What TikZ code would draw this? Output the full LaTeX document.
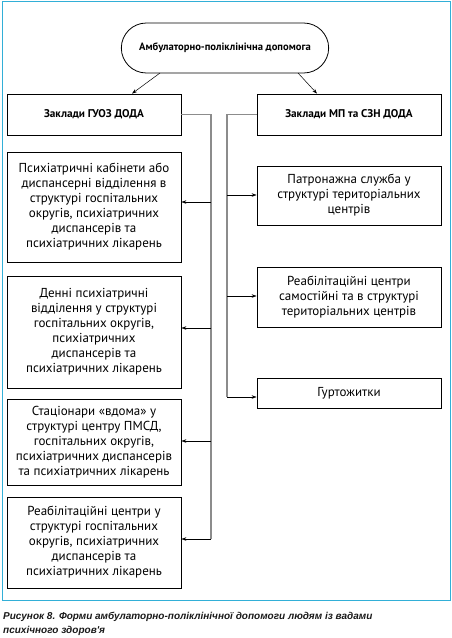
\documentclass[tikz,border=0pt]{standalone}
\usepackage{fontspec}
\setmainfont{PT Sans}
\newfontfamily\capfont{Liberation Sans}
\usetikzlibrary{shapes.misc,arrows.meta}
\definecolor{framecyan}{RGB}{50,175,215}
\definecolor{linegray}{RGB}{140,140,140}
\definecolor{capgray}{RGB}{25,25,25}
\tikzset{
  box/.style={draw=black, line width=0.8pt, minimum width=174pt, align=center, inner sep=2pt, font=\fontsize{13}{15}\selectfont},
  rbox/.style={box, minimum width=184pt},
  head/.style={draw=black, line width=0.8pt, minimum height=41pt, font=\fontsize{11.2}{12}\selectfont\bfseries},
  arr/.style={draw=black, line width=0.5pt, -{Stealth[length=5pt,width=3.5pt]}},
  trunk/.style={draw=linegray, line width=1.6pt},
}
\begin{document}
\begin{tikzpicture}[x=1pt,y=-1pt]
\useasboundingbox (0,0) rectangle (452,638);
\draw[framecyan, line width=1.2pt] (2.5,1.5) rectangle (450.5,600.5);
\node[draw=black, line width=0.8pt, rounded rectangle, minimum width=214pt, minimum height=50pt, font=\fontsize{10.6}{12}\selectfont\bfseries] (top) at (225,48) {Амбулаторно-поліклінічна допомога};
\node[head, minimum width=174pt] (hL) at (94,114.5) {Заклади ГУОЗ ДОДА};
\node[head, minimum width=184pt] (hR) at (349,114.5) {Заклади МП та СЗН ДОДА};
\draw[arr] (160,73) -- (hL.north -| 132,0);
\draw[arr] (298,73) -- (hR.north -| 317,0);

\node[box, minimum height=110pt] (L1) at (94,207) {Психіатричні кабінети або\\диспансерні відділення в\\структурі госпітальних\\округів, психіатричних\\диспансерів та\\психіатричних лікарень};
\node[box, minimum height=112pt] (L2) at (94,332) {Денні психіатричні\\відділення у структурі\\госпітальних округів,\\психіатричних\\диспансерів та\\психіатричних лікарень};
\node[box, minimum height=86pt] (L3) at (94,442) {Стаціонари «вдома» у\\структурі центру ПМСД,\\госпітальних округів,\\психіатричних диспансерів\\та психіатричних лікарень};
\node[box, minimum height=91pt] (L4) at (94,542.5) {Реабілітаційні центри у\\структурі госпітальних\\округів, психіатричних\\диспансерів та\\психіатричних лікарень};

\node[rbox, minimum height=59pt] (R1) at (349,195.5) {Патронажна служба у\\структурі територіальних\\центрів};
\node[rbox, minimum height=60pt] (R2) at (349,297) {Реабілітаційні центри\\самостійні та в структурі\\територіальних центрів};
\node[rbox, minimum height=30pt] (R3) at (349,393) {Гуртожитки};

\coordinate (lv1) at (211,202);
\coordinate (lv2) at (211,328);
\coordinate (lv3) at (211,441);
\coordinate (lv4) at (211,539);
\coordinate (rv1) at (227,195);
\coordinate (rv2) at (227,296);
\coordinate (rv3) at (227,397);

\draw[trunk] (hL.east) -| (lv4);
\draw[trunk] (hR.west) -| (rv3);
\foreach \c/\b in {lv1/L1,lv2/L2,lv3/L3,lv4/L4}{\draw[arr] (\c) -- (\b.east |- \c);}
\foreach \c/\b in {rv1/R1,rv2/R2,rv3/R3}{\draw[arr] (\c) -- (\b.west |- \c);}

\node[anchor=north west, align=left, inner sep=0pt, text=capgray, font=\capfont\fontsize{10}{14}\selectfont\bfseries\itshape] (cap) at (3,612) {Рисунок 8. Форми амбулаторно-поліклінічної допомоги людям із вадами\\психічного здоров'я};
\end{tikzpicture}
\end{document}
